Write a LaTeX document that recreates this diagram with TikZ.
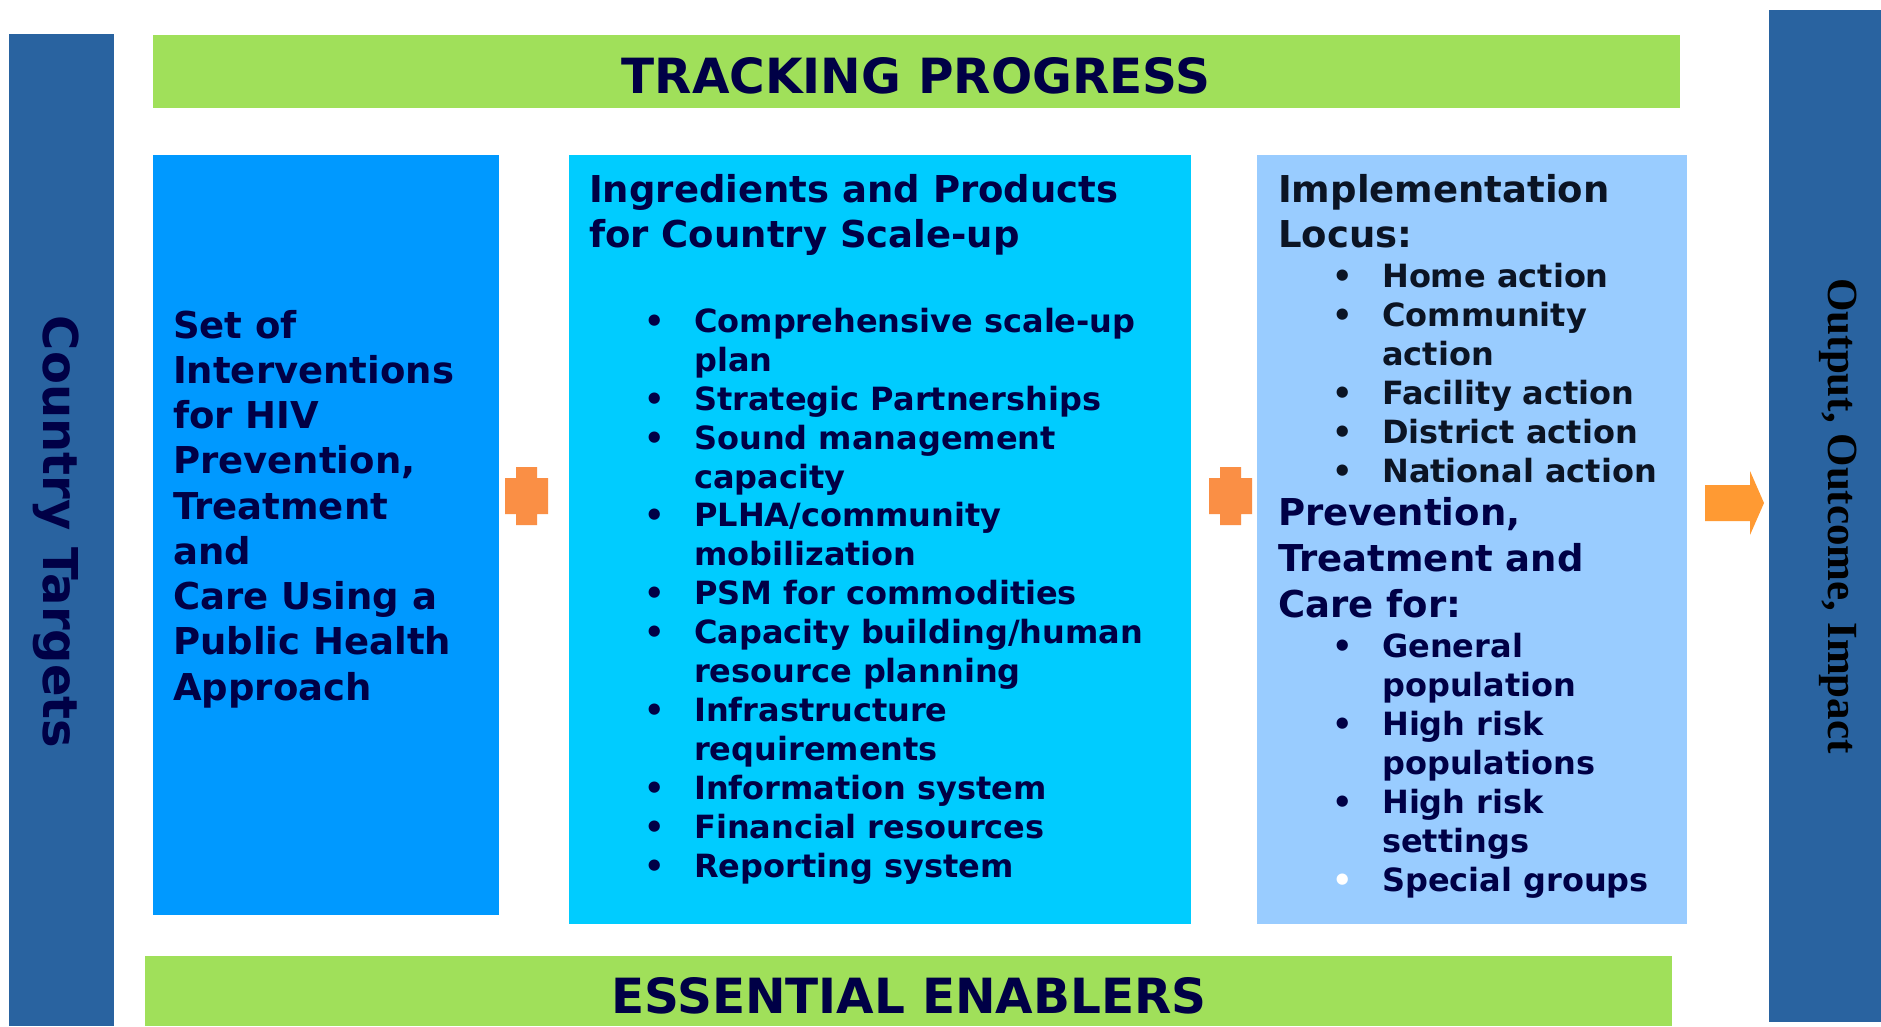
\documentclass[tikz,border=0pt]{standalone}
\usepackage{fontspec}
\setmainfont{DejaVu Sans}
\newfontfamily\outfont{Liberation Serif}
\definecolor{barblue}{HTML}{2963A0}
\definecolor{bandgreen}{HTML}{A0E05A}
\definecolor{boxone}{HTML}{0099FF}
\definecolor{boxtwo}{HTML}{00CCFF}
\definecolor{boxthree}{HTML}{99CCFF}
\definecolor{plusorange}{HTML}{FA8F45}
\definecolor{arroworange}{HTML}{FF9A33}
\definecolor{navy}{HTML}{000046}
\definecolor{ink}{HTML}{0B1424}
\newcommand{\bul}[1][navy]{\makebox[50pt][l]{\textcolor{#1}{•}}}
\newcommand{\ind}{\hspace*{50pt}}
\begin{document}
% multi-line text nodes are placed by the baseline of their last line
\begin{tikzpicture}[x=1pt,y=-1pt,
  txt/.style={inner sep=0pt, anchor=base west, align=left, text=navy, font=\bfseries},
  big/.style={txt, font=\fontsize{37}{45.25}\selectfont\bfseries},
  head/.style={txt, font=\fontsize{37}{45}\selectfont\bfseries},
  items/.style={txt, font=\fontsize{32}{38.9}\selectfont\bfseries},
  band/.style={inner sep=0pt, text=navy, font=\fontsize{48.5}{56}\selectfont\bfseries},
  plusmark/.pic={\fill[plusorange] (-10.5,-29) -- (10.5,-29) -- (10.5,-18) -- (21.5,-18)
      -- (21.5,18) -- (10.5,18) -- (10.5,29) -- (-10.5,29) -- (-10.5,18) -- (-21.5,18)
      -- (-21.5,-18) -- (-10.5,-18) -- cycle;}]
\useasboundingbox (0,0) rectangle (1881,1026);
\fill[white] (0,0) rectangle (1881,1026);

% side bars and bands
\fill[barblue] (9,34) rectangle (114,1026);
\fill[barblue] (1769,10) rectangle (1881,1022);
\fill[bandgreen] (153,35) rectangle (1680,108);
\fill[bandgreen] (145,956) rectangle (1672,1026);

% content boxes
\fill[boxone] (153,155) rectangle (499,915);
\fill[boxtwo] (569,155) rectangle (1191,924);
\fill[boxthree] (1257,155) rectangle (1687,924);

% connectors between the boxes
\pic at (526.5,496) {plusmark};
\pic at (1230.5,496) {plusmark};
\fill[arroworange] (1705,485) -- (1750,485) -- (1750,471) -- (1764,503)
  -- (1750,535) -- (1750,521) -- (1705,521) -- cycle;

% band titles
\node[band, anchor=base] (track) at (916,93) {TRACKING PROGRESS};
\node[band, anchor=base] (enablers) at (909,1013) {ESSENTIAL ENABLERS};

% vertical labels
\node[inner sep=0pt, anchor=base, rotate=-90, text=navy,
  font=\fontsize{48}{56}\selectfont\bfseries] (targets) at (43,532) {Country Targets};
\node[inner sep=0pt, anchor=base, rotate=-90, text=black,
  font=\outfont\fontsize{43}{50}\selectfont\bfseries] (results) at (1828,516) {Output, Outcome, Impact};

% interventions box
\node[big] (interv) at (173,700) {Set of\\Interventions\\for HIV\\Prevention,\\Treatment\\and\\Care Using a\\Public Health\\Approach};

% ingredients box
\node[head] (ingr) at (589,247) {Ingredients and Products\\for Country Scale-up};
\node[items] (ingrlist) at (644,877) {\bul Comprehensive scale-up\\\ind plan\\
  \bul Strategic Partnerships\\\bul Sound management\\\ind capacity\\
  \bul PLHA/community\\\ind mobilization\\\bul PSM for commodities\\
  \bul Capacity building/human\\\ind resource planning\\
  \bul Infrastructure\\\ind requirements\\\bul Information system\\
  \bul Financial resources\\\bul Reporting system};

% implementation box
\node[head, text=ink] (locus) at (1278,247) {Implementation\\Locus:};
\node[items, font=\fontsize{32}{39}\selectfont\bfseries, text=ink] (locuslist) at (1332,482)
  {\bul[ink]Home action\\\bul[ink]Community\\\ind action\\\bul[ink]Facility action\\
   \bul[ink]District action\\\bul[ink]National action};
\node[head, font=\fontsize{37}{46}\selectfont\bfseries] (care) at (1278,617) {Prevention,\\Treatment and\\Care for:};
\node[items, font=\fontsize{32}{39}\selectfont\bfseries] (carelist) at (1332,891)
  {\bul General\\\ind population\\\bul High risk\\\ind populations\\
   \bul High risk\\\ind settings\\\bul[white]Special groups};
\end{tikzpicture}
\end{document}
